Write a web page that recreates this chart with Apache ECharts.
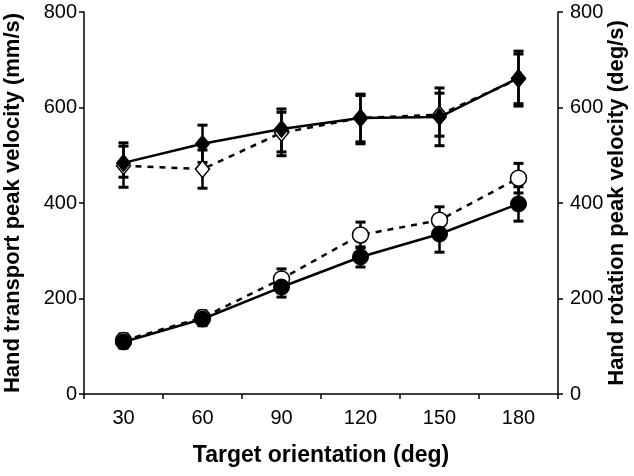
<!DOCTYPE html>
<html>
  <head>
    <meta charset="utf-8" />
    <title>Peak velocity vs target orientation</title>
  </head>
  <body style="margin: 0; background: #fff">
    <script src="https://cdn.jsdelivr.net/npm/echarts@6/dist/echarts.min.js"></script>

    <div id="chart" style="width: 634px; height: 476px"></div>

    <script>
      // target orientation (deg)
      const categories = ['30', '60', '90', '120', '150', '180'];

      // hand transport peak velocity (mm/s) - diamonds, left axis
      const transportFilled = [484, 524, 555, 578, 580, 662];
      const transportFilledLow = [454, 485, 507, 528, 520, 603];
      const transportFilledHigh = [519, 563, 597, 628, 641, 712];
      const transportOpen = [478, 471, 547, 578, 585, 660];
      const transportOpenLow = [433, 431, 499, 524, 540, 608];
      const transportOpenHigh = [526, 511, 590, 625, 630, 718];

      // hand rotation peak velocity (deg/s) - circles, right axis
      const rotationFilled = [109, 157, 224, 287, 335, 398];
      const rotationFilledLow = [96, 143, 203, 266, 297, 362];
      const rotationFilledHigh = [122, 171, 245, 308, 373, 434];
      const rotationOpen = [112, 160, 241, 333, 364, 452];
      const rotationOpenLow = [98, 146, 220, 306, 336, 421];
      const rotationOpenHigh = [126, 174, 262, 360, 392, 483];

      const yTicks = [0, 200, 400, 600, 800];

      const font = 'Liberation Sans, Arial, sans-serif';

      function errData(low, high) {
        return low.map((v, i) => [i, v, high[i]]);
      }

      function renderErr(params, api) {
        const lo = api.coord([api.value(0), api.value(1)]);
        const hi = api.coord([api.value(0), api.value(2)]);
        const half = 5;
        const st = { stroke: '#000', lineWidth: 2.5 };
        const cap = { stroke: '#000', lineWidth: 3 };
        return {
          type: 'group',
          children: [
            { type: 'line', shape: { x1: lo[0], y1: lo[1], x2: hi[0], y2: hi[1] }, style: st },
            { type: 'line', shape: { x1: hi[0] - half, y1: hi[1], x2: hi[0] + half, y2: hi[1] }, style: cap },
            { type: 'line', shape: { x1: lo[0] - half, y1: lo[1], x2: lo[0] + half, y2: lo[1] }, style: cap },
          ],
        };
      }

      function errSeries(low, high, axisIdx) {
        return {
          type: 'custom',
          yAxisIndex: axisIdx,
          z: 1,
          renderItem: renderErr,
          encode: { x: 0, y: [1, 2] },
          data: errData(low, high),
        };
      }

      function yAxis(pos, name, gap, margin) {
        return {
          type: 'value',
          position: pos,
          min: yTicks[0],
          max: yTicks[yTicks.length - 1],
          interval: 200,
          name: name,
          nameLocation: 'middle',
          nameRotate: 90,
          nameGap: gap,
          nameMoveOverlap: false,
          nameTextStyle: { fontFamily: font, fontSize: 22, fontWeight: 'bold', color: '#000' },
          axisLine: { show: true, lineStyle: { color: '#000', width: 1.5 } },
          axisTick: { show: true, length: 5, lineStyle: { color: '#000', width: 1.5 } },
          axisLabel: { fontFamily: font, fontSize: 20, color: '#000', margin: margin },
          splitLine: { show: false },
        };
      }

      let chart = echarts.init(document.getElementById('chart'), null, {
        width: 634,
        height: 476,
      });

      let opts = {
        animation: false,
        backgroundColor: '#fff',
        grid: { left: 84, right: 76, top: 12, bottom: 82, containLabel: false, outerBoundsMode: 'none' },
        xAxis: {
          type: 'category',
          data: categories,
          boundaryGap: true,
          name: 'Target orientation (deg)',
          nameLocation: 'middle',
          nameGap: 50,
          nameMoveOverlap: false,
          nameTextStyle: { fontFamily: font, fontSize: 23, fontWeight: 'bold', color: '#000' },
          axisLine: { show: true, lineStyle: { color: '#000', width: 1.5 } },
          axisTick: { show: true, length: 5, lineStyle: { color: '#000', width: 1.5 } },
          axisLabel: { fontFamily: font, fontSize: 20, color: '#000', margin: 14 },
        },
        yAxis: [
          yAxis('left', 'Hand transport peak velocity (mm/s)', 60, 7),
          yAxis('right', 'Hand rotation peak velocity (deg/s)', 48, 12),
        ],
        series: [
          errSeries(transportOpenLow, transportOpenHigh, 0),
          errSeries(transportFilledLow, transportFilledHigh, 0),
          errSeries(rotationOpenLow, rotationOpenHigh, 1),
          errSeries(rotationFilledLow, rotationFilledHigh, 1),
          {
            type: 'line',
            yAxisIndex: 0,
            z: 2,
            data: transportOpen,
            symbol: 'diamond',
            symbolSize: [14, 17],
            lineStyle: { color: '#000', width: 2.5, type: [6, 6] },
            itemStyle: { color: '#fff', borderColor: '#000', borderWidth: 1.5 },
          },
          {
            type: 'line',
            yAxisIndex: 0,
            z: 3,
            data: transportFilled,
            symbol: 'diamond',
            symbolSize: [14, 17],
            lineStyle: { color: '#000', width: 2.5 },
            itemStyle: { color: '#000', borderColor: '#000', borderWidth: 1 },
          },
          {
            type: 'line',
            yAxisIndex: 1,
            z: 2,
            data: rotationOpen,
            symbol: 'circle',
            symbolSize: 16,
            lineStyle: { color: '#000', width: 2.5, type: [6, 6] },
            itemStyle: { color: '#fff', borderColor: '#000', borderWidth: 1.5 },
          },
          {
            type: 'line',
            yAxisIndex: 1,
            z: 3,
            data: rotationFilled,
            symbol: 'circle',
            symbolSize: 16,
            lineStyle: { color: '#000', width: 2.5 },
            itemStyle: { color: '#000', borderColor: '#000', borderWidth: 1 },
          },
        ],
      };

      chart.setOption(opts);
    </script>
  </body>
</html>
